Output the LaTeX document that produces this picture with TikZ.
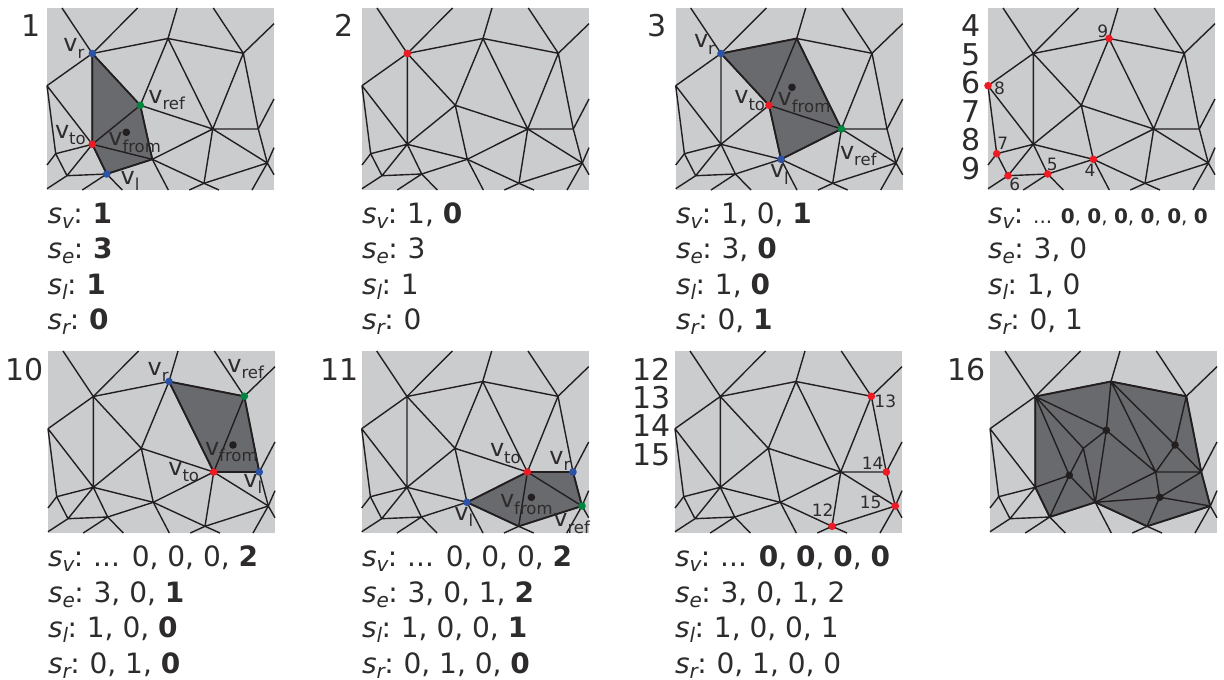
\documentclass[tikz,border=0pt]{standalone}
\usepackage{fontspec}
\setmainfont{DejaVu Sans}
\definecolor{ink}{HTML}{231F20}
\definecolor{txt}{HTML}{2E2B2C}
\definecolor{panelgrey}{HTML}{CBCCCE}
\definecolor{celldark}{HTML}{696A6D}
\definecolor{vred}{HTML}{ED1C24}
\definecolor{vblue}{HTML}{2B52A4}
\definecolor{vgreen}{HTML}{00853F}
\tikzset{
  panelbg/.style={fill=panelgrey},
  cell/.style={fill=celldark},
  edge/.style={draw=ink,line width=1.4pt},
  cellb/.style={draw=ink,line width=1.8pt,line join=round},
  lab/.style={inner sep=0pt,outer sep=0pt,anchor=base west,text=txt},
  num/.style={inner sep=0pt,outer sep=0pt,anchor=base,text=txt,font=\fontsize{17}{17}\selectfont},
  pnum/.style={inner sep=0pt,outer sep=0pt,anchor=base west,text=txt,font=\fontsize{30}{30}\selectfont},
  seqline/.style={inner sep=0pt,outer sep=0pt,anchor=base west,text=txt,font=\fontsize{28}{28}\selectfont},
  dotr/.style={fill=vred},
  dotb/.style={fill=vblue},
  dotg/.style={fill=vgreen},
  dotk/.style={fill=ink}
}
\newcommand\vv[1]{\fontsize{24}{24}\selectfont v\raisebox{-6.5pt}{\fontsize{16.5}{16.5}\selectfont #1}}
\newcommand\seqs[1]{{\itshape s\raisebox{-5pt}{\fontsize{20}{20}\selectfont #1}}\hspace{-0.5pt}:\hspace{-2pt}}
\newcommand\bb[1]{\textbf{#1}}
\newcommand\seqblock[7]{%
  \node[seqline] (#1v) at (#2,#3) {\seqs{v} #4};
  \node[seqline] (#1e) at (#2,#3+35.5) {\seqs{e} #5};
  \node[seqline] (#1l) at (#2,#3+71) {\seqs{l} #6};
  \node[seqline] (#1r) at (#2,#3+106.5) {\seqs{r} #7};
}
\newcommand\meshcoords{%
  \coordinate (A) at (45.3,45.5);
  \coordinate (B) at (121,30.5);
  \coordinate (C) at (196.3,45.3);
  \coordinate (D) at (0,77.7);
  \coordinate (E) at (93.3,97.3);
  \coordinate (F) at (45.3,136.3);
  \coordinate (G) at (165.7,121);
  \coordinate (H) at (211.3,121);
  \coordinate (I) at (8.7,145.7);
  \coordinate (J) at (105.3,151.3);
  \coordinate (K) at (20,167.7);
  \coordinate (L) at (59.7,166);
  \coordinate (M) at (157,175.3);
  \coordinate (N) at (220.3,155);
  \coordinate (P1) at (116.3,79.3);
  \coordinate (P2) at (185,94);
  \coordinate (P3) at (79.3,124.3);
  \coordinate (P4) at (169.7,146.3);
  \coordinate (a1) at (15,0);
  \coordinate (a2) at (90.7,0);
  \coordinate (b1) at (130,0);
  \coordinate (c1) at (166.3,0);
  \coordinate (c2) at (227,15.7);
  \coordinate (h1) at (227,91);
  \coordinate (n1) at (227,139.7);
  \coordinate (n2) at (227,166.7);
  \coordinate (n3) at (205,182);
  \coordinate (i1) at (0,157);
  \coordinate (k1) at (0,180.7);
  \coordinate (l1) at (35.3,182);
  \coordinate (l2) at (75.3,182);
  \coordinate (j1) at (121.3,182);
  \coordinate (m1) at (142.3,182);
  \coordinate (m2) at (172,182);
}
\newcommand\outeredges{%
  \draw[edge] (A)--(a1) (A)--(a2) (B)--(b1) (C)--(c1) (C)--(c2) (H)--(h1)
    (N)--(n1) (N)--(n2) (N)--(n3) (I)--(i1) (K)--(k1) (L)--(l1) (L)--(l2)
    (J)--(j1) (M)--(m1) (M)--(m2);
  \draw[edge] (A)--(B) (B)--(C) (A)--(D) (A)--(F) (C)--(H) (D)--(F) (D)--(I)
    (F)--(I) (F)--(K) (F)--(L) (I)--(K) (K)--(L) (L)--(J) (J)--(M) (M)--(N) (H)--(N);
}
\newcommand\meshedges{%
  \outeredges
  \draw[edge] (A)--(E) (B)--(E) (B)--(G) (C)--(G) (E)--(F) (E)--(G) (E)--(J)
    (F)--(J) (G)--(J) (G)--(H) (G)--(M) (G)--(N);
}
\newcommand\pdot[2]{\fill[#1] (#2) circle (3.8);}
\begin{document}
\begin{tikzpicture}[x=1pt,y=-1pt]
\useasboundingbox (0,0) rectangle (1224,680);
% ---- panel 1
\begin{scope}[shift={(47,8)}]
  \meshcoords
  \fill[panelbg] (0,0) rectangle (227,182);
  \fill[cell] (A)--(E)--(J)--(L)--(F)--cycle;
  \meshedges
  \draw[cellb] (A)--(E)--(J)--(L)--(F)--cycle;
  \pdot{dotk}{P3}
  \pdot{dotb}{A}\pdot{dotg}{E}\pdot{dotr}{F}\pdot{dotb}{L}
\end{scope}
\node[lab] (p1r) at (63.3,51.7) {\vv{r}};
\node[lab] (p1ref) at (148.3,103.3) {\vv{ref}};
\node[lab] (p1to) at (55,138.3) {\vv{to}};
\node[lab] (p1from) at (108.3,145.7) {\vv{from}};
\node[lab] (p1l) at (120.7,184.3) {\vv{l}};
% ---- panel 2
\begin{scope}[shift={(362,8)}]
  \meshcoords
  \fill[panelbg] (0,0) rectangle (227,182);
  \meshedges
  \pdot{dotr}{A}
\end{scope}
% ---- panel 3
\begin{scope}[shift={(675.7,8)}]
  \meshcoords
  \fill[panelbg] (0,0) rectangle (227,182);
  \fill[cell] (A)--(B)--(G)--(J)--(E)--cycle;
  \meshedges
  \draw[cellb] (A)--(B)--(G)--(J)--(E)--cycle;
  \pdot{dotk}{P1}
  \pdot{dotb}{A}\pdot{dotg}{G}\pdot{dotr}{E}\pdot{dotb}{J}
\end{scope}
\node[lab] (p3r) at (694,47.7) {\vv{r}};
\node[lab] (p3to) at (734.3,103.7) {\vv{to}};
\node[lab] (p3from) at (777.7,105.7) {\vv{from}};
\node[lab] (p3ref) at (840,159.3) {\vv{ref}};
\node[lab] (p3l) at (770,177.7) {\vv{l}};
% ---- panel 4
\begin{scope}[shift={(988,8)}]
  \meshcoords
  \fill[panelbg] (0,0) rectangle (227,182);
  \meshedges
  \pdot{dotr}{J}\pdot{dotr}{L}\pdot{dotr}{K}\pdot{dotr}{I}\pdot{dotr}{D}\pdot{dotr}{B}
\end{scope}
\node[num] (n9) at (1102.7,37.3) {9};
\node[num] (n8) at (999.5,94.3) {8};
\node[num] (n7) at (1002.7,149) {7};
\node[num] (n6) at (1014.7,190) {6};
\node[num] (n5) at (1052.3,170) {5};
\node[num] (n4) at (1090,176.7) {4};
% ---- panel 10
\begin{scope}[shift={(48,351)}]
  \meshcoords
  \fill[panelbg] (0,0) rectangle (227,182);
  \fill[cell] (B)--(C)--(H)--(G)--cycle;
  \meshedges
  \draw[cellb] (B)--(C)--(H)--(G)--cycle;
  \pdot{dotk}{P2}
  \pdot{dotb}{B}\pdot{dotg}{C}\pdot{dotr}{G}\pdot{dotb}{H}
\end{scope}
\node[lab] (p10r) at (147.7,375) {\vv{r}};
\node[lab] (p10ref) at (227.3,372.3) {\vv{ref}};
\node[lab] (p10from) at (205,455) {\vv{from}};
\node[lab] (p10to) at (168.3,475) {\vv{to}};
\node[lab] (p10l) at (243.3,487.3) {\vv{l}};
% ---- panel 11
\begin{scope}[shift={(361.7,351)}]
  \meshcoords
  \fill[panelbg] (0,0) rectangle (227,182);
  \fill[cell] (G)--(H)--(N)--(M)--(J)--cycle;
  \meshedges
  \draw[cellb] (G)--(H)--(N)--(M)--(J)--cycle;
  \pdot{dotk}{P4}
  \pdot{dotr}{G}\pdot{dotb}{H}\pdot{dotg}{N}\pdot{dotb}{J}
\end{scope}
\node[lab] (p11to) at (490,456.7) {\vv{to}};
\node[lab] (p11r) at (549.3,464) {\vv{r}};
\node[lab] (p11from) at (500,507.7) {\vv{from}};
\node[lab] (p11l) at (454.3,520.3) {\vv{l}};
\node[lab] (p11ref) at (553.3,526.7) {\vv{ref}};
% ---- panel 12
\begin{scope}[shift={(675,351)}]
  \meshcoords
  \fill[panelbg] (0,0) rectangle (227,182);
  \meshedges
  \pdot{dotr}{M}\pdot{dotr}{C}\pdot{dotr}{H}\pdot{dotr}{N}
\end{scope}
\node[num] (n13) at (885.3,407.3) {13};
\node[num] (n14) at (872.7,469.3) {14};
\node[num] (n15) at (870.7,508.7) {15};
\node[num] (n12) at (822.7,516) {12};
% ---- panel 16
\begin{scope}[shift={(990,351)}]
  \meshcoords
  \fill[panelbg] (0,0) rectangle (227,182);
  \fill[cell] (A)--(B)--(C)--(H)--(N)--(M)--(J)--(L)--(F)--cycle;
  \outeredges
  \draw[edge] (A)--(P1) (A)--(E) (A)--(P3) (B)--(P1) (B)--(G) (B)--(P2) (C)--(P2)
    (P2)--(G) (P2)--(H) (P1)--(E) (P1)--(G) (P1)--(J) (E)--(P3) (E)--(J)
    (P3)--(F) (P3)--(L) (P3)--(J) (G)--(J) (G)--(H) (G)--(P4) (H)--(P4)
    (J)--(P4) (M)--(P4) (N)--(P4);
  \draw[cellb] (A)--(B)--(C)--(H)--(N)--(M)--(J)--(L)--(F)--cycle;
  \pdot{dotk}{P1}\pdot{dotk}{P2}\pdot{dotk}{P3}\pdot{dotk}{P4}
\end{scope}
% ---- panel numbers
\node[pnum] (t1) at (21,36.7) {1};
\node[pnum] (t2) at (334,36.7) {2};
\node[pnum] (t3) at (647,36.7) {3};
\node[pnum] (t4) at (961.5,36.7) {4};
\node[pnum] (t5) at (961.5,65) {5};
\node[pnum] (t6) at (961.5,93.5) {6};
\node[pnum] (t7) at (961.5,122) {7};
\node[pnum] (t8) at (961.5,150.5) {8};
\node[pnum] (t9) at (961.5,179.5) {9};
\node[pnum] (t10) at (5.5,380) {10};
\node[pnum] (t11) at (320.5,380) {11};
\node[pnum] (t12) at (632,380) {12};
\node[pnum] (t13) at (632,408.3) {13};
\node[pnum] (t14) at (632,436.7) {14};
\node[pnum] (t15) at (632,465) {15};
\node[pnum] (t16) at (947,380) {16};
% ---- sequences
\seqblock{a}{47.5}{223}{\bb{1}}{\bb{3}}{\bb{1}}{\bb{0}}
\seqblock{b}{362}{223}{1, \bb{0}}{3}{1}{0}
\seqblock{c}{676}{223}{1, 0, \bb{1}}{3, \bb{0}}{1, \bb{0}}{0, \bb{1}}
\seqblock{d}{988}{223}{{\fontsize{20}{20}\selectfont ... \bb{0}, \bb{0}, \bb{0}, \bb{0}, \bb{0}, \bb{0}}}{3, 0}{1, 0}{0, 1}
\seqblock{e}{48}{566.5}{... 0, 0, 0, \bb{2}}{3, 0, \bb{1}}{1, 0, \bb{0}}{0, 1, \bb{0}}
\seqblock{f}{362}{566.5}{... 0, 0, 0, \bb{2}}{3, 0, 1, \bb{2}}{1, 0, 0, \bb{1}}{0, 1, 0, \bb{0}}
\seqblock{g}{675}{566.5}{... \bb{0}, \bb{0}, \bb{0}, \bb{0}}{3, 0, 1, 2}{1, 0, 0, 1}{0, 1, 0, 0}
\end{tikzpicture}
\end{document}
